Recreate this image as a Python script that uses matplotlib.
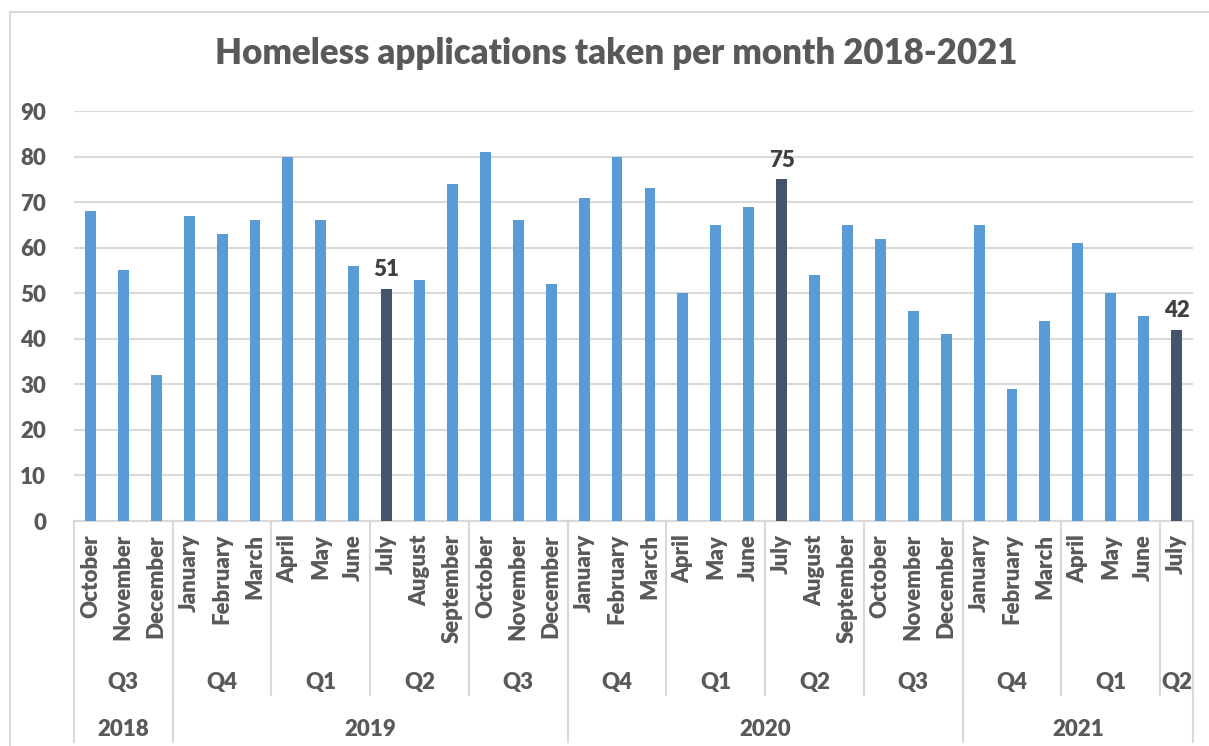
import numpy as np
import matplotlib.pyplot as plt
from matplotlib.lines import Line2D
from matplotlib.patches import Rectangle

# Monthly homeless applications, Oct 2018 - Jul 2021
months = ['October', 'November', 'December',
          'January', 'February', 'March', 'April', 'May', 'June',
          'July', 'August', 'September', 'October', 'November', 'December',
          'January', 'February', 'March', 'April', 'May', 'June',
          'July', 'August', 'September', 'October', 'November', 'December',
          'January', 'February', 'March', 'April', 'May', 'June', 'July']
applications = [68, 55, 32,
                67, 63, 66, 80, 66, 56, 51, 53, 74, 81, 66, 52,
                71, 80, 73, 50, 65, 69, 75, 54, 65, 62, 46, 41,
                65, 29, 44, 61, 50, 45, 42]
highlighted = [9, 21, 33]  # July of each year

quarters = ['Q3', 'Q4', 'Q1', 'Q2', 'Q3', 'Q4', 'Q1', 'Q2', 'Q3', 'Q4', 'Q1', 'Q2']
quarter_sizes = [3, 3, 3, 3, 3, 3, 3, 3, 3, 3, 3, 1]
years = ['2018', '2019', '2020', '2021']
year_sizes = [3, 12, 12, 7]

light = '#5b9bd5'
dark = '#44546a'
text_col = '#595959'
line_col = '#d9d9d9'
FONT = 'Lato'
FS = 16

fig = plt.figure(figsize=(12.09, 7.46), dpi=100)
fig.patches.append(Rectangle((10 / 1209, -0.01), 1.1, (746 - 12) / 746 + 0.01,
                             transform=fig.transFigure, fill=False,
                             edgecolor=line_col, lw=1.5))

ax = fig.add_axes([74 / 1209, (746 - 521) / 746, (1193 - 74) / 1209, (521 - 111) / 746])
x = np.arange(len(months))
colors = [dark if i in highlighted else light for i in x]
ax.bar(x, applications, width=0.33, color=colors, zorder=3)

for i in highlighted:
    ax.text(x[i], applications[i] + 1.8, str(applications[i]), ha='center', va='bottom',
            fontsize=FS, fontweight='heavy', color='#404040', family=FONT)

ax.set_xlim(-0.5, len(months) - 0.5)
ax.set_ylim(0, 90)
ax.set_yticks(range(0, 91, 10))
ax.yaxis.grid(True, color=line_col, lw=1.5, zorder=0)
ax.set_xticks([])
ax.tick_params(axis='y', length=0, pad=20, labelsize=FS, labelcolor=text_col)
for lab in ax.get_yticklabels():
    lab.set_fontweight('heavy')
    lab.set_family(FONT)
for s in ['left', 'right', 'top']:
    ax.spines[s].set_visible(False)
ax.spines['bottom'].set_color(line_col)
ax.spines['bottom'].set_linewidth(1.5)

# multi-level category axis below the plot
trans = ax.get_xaxis_transform()
px = 1 / (521 - 111)  # axes-fraction per pixel vertically
for i, m in enumerate(months):
    ax.text(x[i], -13 * px, m, rotation=90, ha='center', va='top', transform=trans,
            fontsize=FS, fontweight='heavy', color=text_col, family=FONT, clip_on=False)

start = 0
for q, n in zip(quarters, quarter_sizes):
    ax.text(start + n / 2 - 0.5, -162 * px, q, ha='center', va='center', transform=trans,
            fontsize=FS, fontweight='heavy', color=text_col, family=FONT, clip_on=False)
    start += n
    ax.add_line(Line2D([start - 0.5, start - 0.5], [0, -174 * px], transform=trans,
                       color=line_col, lw=1.5, clip_on=False))

start = 0
for y, n in zip(years, year_sizes):
    ax.text(start + n / 2 - 0.5, -208 * px, y, ha='center', va='center', transform=trans,
            fontsize=FS, fontweight='heavy', color=text_col, family=FONT, clip_on=False)
    ax.add_line(Line2D([start - 0.5, start - 0.5], [0, -221 * px], transform=trans,
                       color=line_col, lw=1.5, clip_on=False))
    start += n
ax.add_line(Line2D([start - 0.5, start - 0.5], [0, -221 * px], transform=trans,
                   color=line_col, lw=1.5, clip_on=False))

fig.text(616 / 1209, (746 - 54) / 746, 'Homeless applications taken per month 2018-2021',
         ha='center', va='center', fontsize=25, fontweight='heavy', color=text_col, family=FONT)

fig.savefig('out.png', dpi=100)
